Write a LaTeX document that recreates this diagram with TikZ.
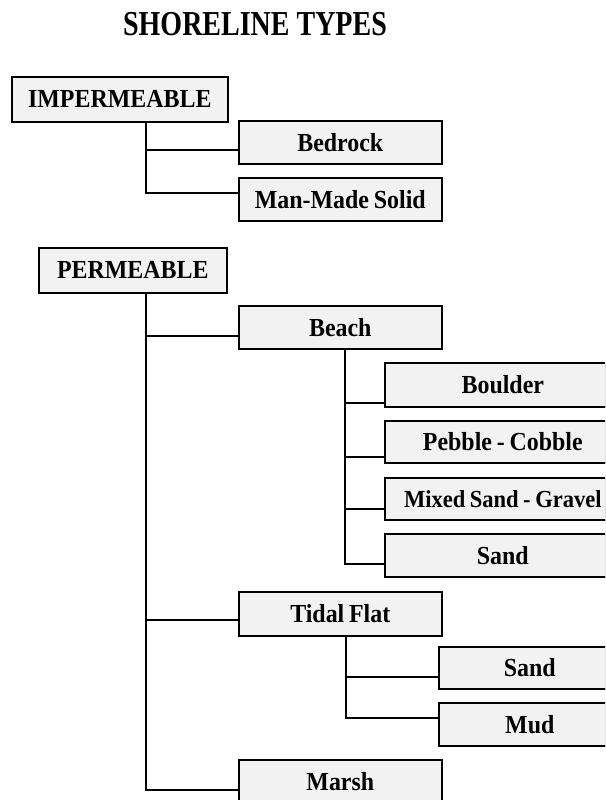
\documentclass[tikz,border=0pt]{standalone}
\usepackage{fontspec}
\setmainfont{Liberation Serif}
\newfontfamily\boxfont[FakeStretch=0.92, WordSpace=0.8]{Liberation Serif}
\newfontfamily\titlefont[FakeStretch=0.8]{Liberation Serif}
\usepackage{xcolor}
\usepackage{tikz}
\usetikzlibrary{shadows}

\begin{document}
\begin{tikzpicture}[x=1pt, y=-1pt,
        typebox/.style = {draw, line width=1.6pt, fill=gray!10, inner sep=0pt, anchor=north west,
            drop shadow={shadow xshift=1.2pt, shadow yshift=-1.2pt, fill=black, opacity=1},
            font=\boxfont\bfseries\fontsize{26}{29}\selectfont},
        link/.style = {line width=2pt}]
            \useasboundingbox (0,0) rectangle (605,800);
            \clip (0,0) rectangle (605,800);
            \node[font=\titlefont\bfseries\fontsize{35}{38}\selectfont] (title) at (255,24) {SHORELINE TYPES};
            \node[typebox, minimum width=216pt, minimum height=45pt] (imp) at (11,76) {IMPERMEABLE};
            \node[typebox, minimum width=203pt, minimum height=43pt] (bed) at (238,120) {Bedrock};
            \node[typebox, minimum width=203pt, minimum height=43pt] (mms) at (238,177) {Man-Made Solid};
            \node[typebox, minimum width=188pt, minimum height=45pt] (perm) at (38,247) {PERMEABLE};
            \node[typebox, minimum width=203pt, minimum height=43pt] (beach) at (238,305) {Beach};
            \node[typebox, minimum width=236pt, minimum height=44pt] (bould) at (384,362) {Boulder};
            \node[typebox, minimum width=236pt, minimum height=42pt] (pebble) at (384,420) {Pebble - Cobble};
            \node[typebox, minimum width=236pt, minimum height=42pt,
                font=\boxfont\bfseries\fontsize{24.5}{28}\selectfont] (mixed) at (384,477) {Mixed Sand - Gravel};
            \node[typebox, minimum width=236pt, minimum height=43pt] (bsand) at (384,533) {Sand};
            \node[typebox, minimum width=203pt, minimum height=44pt] (tidal) at (238,591) {Tidal Flat};
            \node[typebox, minimum width=182pt, minimum height=42pt] (tsand) at (438,646) {Sand};
            \node[typebox, minimum width=182pt, minimum height=43pt] (mud) at (438,702) {Mud};
            \node[typebox, minimum width=203pt, minimum height=44pt] (marsh) at (238,759) {Marsh};
            \coordinate (impT) at (146,0);
            \coordinate (permT) at (146,0);
            \coordinate (beachT) at (345,0);
            \coordinate (tidalT) at (346,0);
            \draw[link] (imp.south -| impT) |- ([yshift=-7.5pt]bed.west);
            \draw[link] (imp.south -| impT) |- ([yshift=6.5pt]mms.west);
            \draw[link] (perm.south -| permT) |- ([yshift=-8.5pt]beach.west);
            \draw[link] (perm.south -| permT) |- ([yshift=-6pt]tidal.west);
            \draw[link] (perm.south -| permT) |- ([yshift=-8pt]marsh.west);
            \draw[link] (beach.south -| beachT) |- ([yshift=-18pt]bould.west);
            \draw[link] (beach.south -| beachT) |- ([yshift=-15pt]pebble.west);
            \draw[link] (beach.south -| beachT) |- ([yshift=-10pt]mixed.west);
            \draw[link] (beach.south -| beachT) |- ([yshift=-8.5pt]bsand.west);
            \draw[link] (tidal.south -| tidalT) |- ([yshift=-9pt]tsand.west);
            \draw[link] (tidal.south -| tidalT) |- ([yshift=6.5pt]mud.west);
        \end{tikzpicture}
\end{document}
